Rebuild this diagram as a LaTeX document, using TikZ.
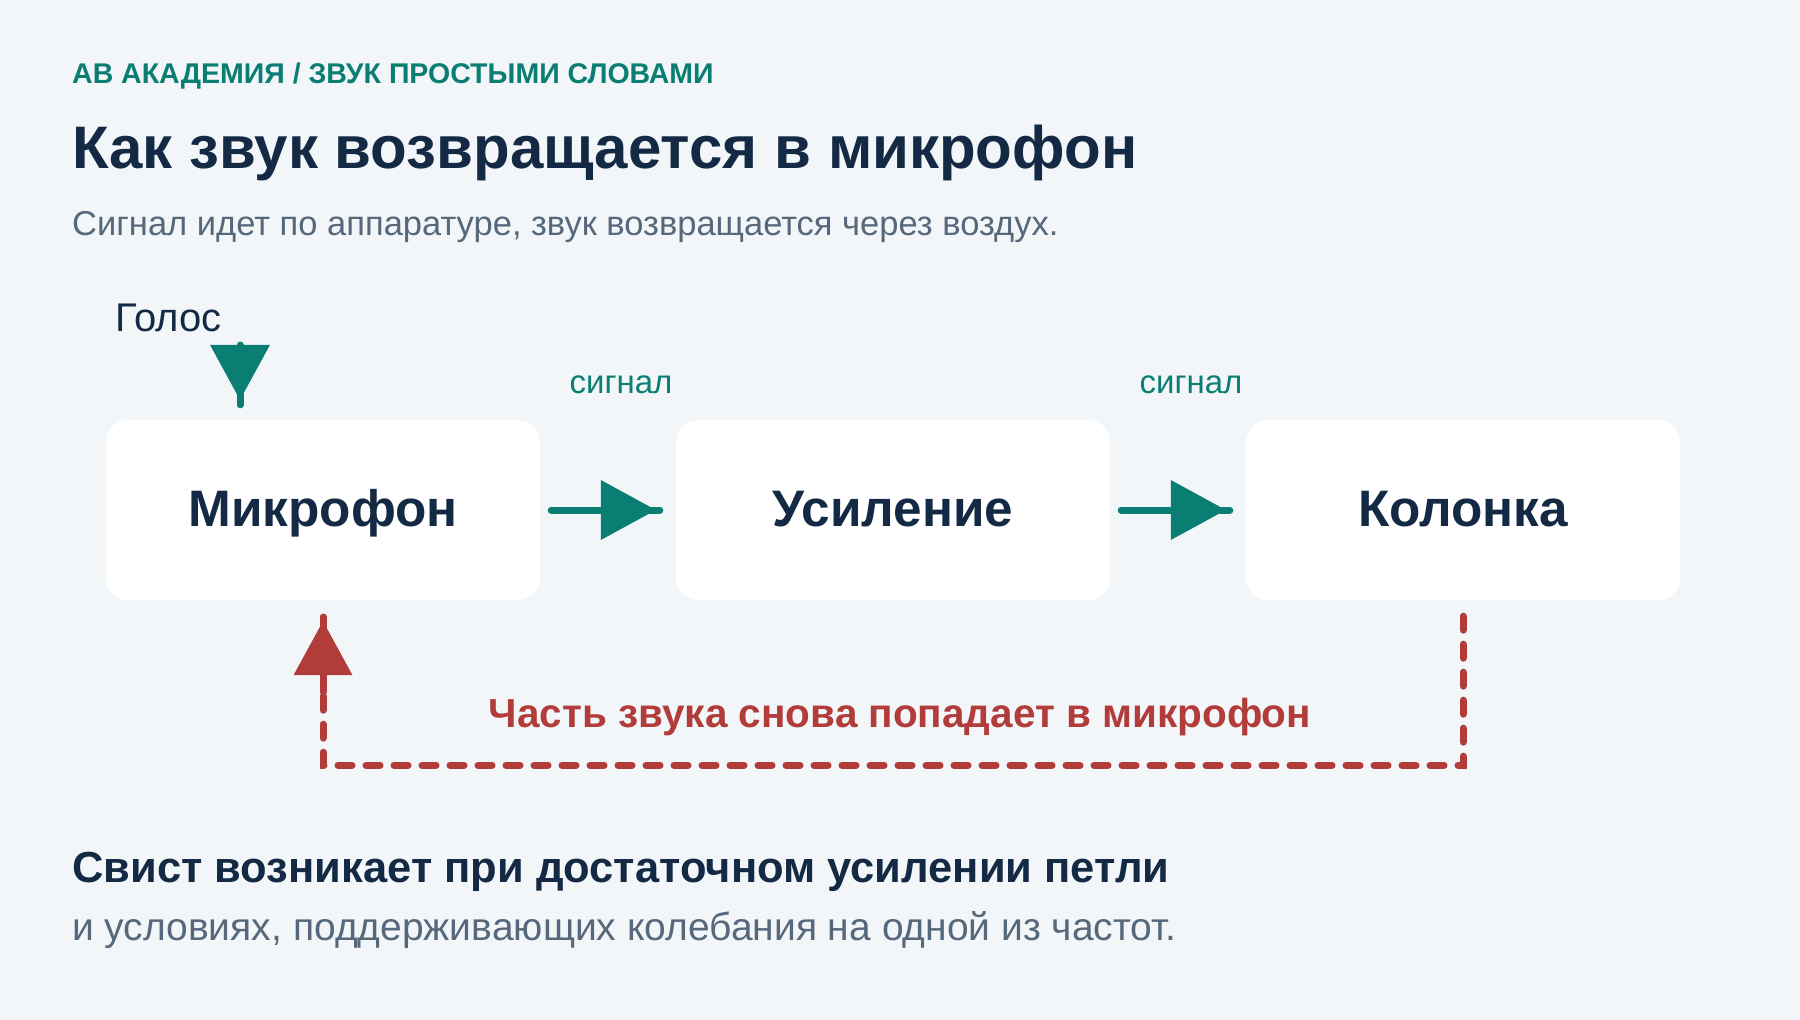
\documentclass[tikz,border=0pt]{standalone}
\usepackage{fontspec}
\setmainfont{Liberation Sans}
\usetikzlibrary{arrows.meta,calc}
\definecolor{bgc}{HTML}{F3F6F8}
\definecolor{accteal}{HTML}{0A7E72}
\definecolor{navyc}{HTML}{142A44}
\definecolor{grayc}{HTML}{56687C}
\definecolor{redc}{HTML}{B23C3A}
\begin{document}
\begin{tikzpicture}[x=1pt,y=-1pt,
  txt/.style={inner sep=0pt, anchor=base west},
  box/.style={fill=white, rounded corners=22pt, minimum width=434pt, minimum height=180pt,
    inner sep=0pt, text height=33pt, text depth=0pt,
    font=\fontsize{51.3}{56}\selectfont\bfseries, text=navyc},
  tealline/.style={draw=accteal, line width=7pt, line cap=round},
  tealhead/.style={draw=accteal, fill=accteal, line width=7pt,
    -{Triangle[length=55pt,width=60pt,line width=0pt]}},
  redline/.style={draw=redc, line width=7pt, line cap=round},
  reddash/.style={redline, dash pattern=on 14pt off 14pt},
  redhead/.style={draw=redc, fill=redc, line width=7pt,
    -{Triangle[length=54pt,width=59pt,line width=0pt]}},
  lbl/.style={inner sep=0pt, anchor=base, text=accteal, font=\fontsize{33}{37}\selectfont}
]
\fill[bgc] (0,0) rectangle (1800,1020);
\useasboundingbox (0,0) rectangle (1800,1020);

\node[txt, text=accteal, font=\fontsize{28.5}{32}\selectfont\bfseries] (kicker) at (72,83)
  {АВ АКАДЕМИЯ / ЗВУК ПРОСТЫМИ СЛОВАМИ};
\node[txt, text=navyc, font=\fontsize{60}{66}\selectfont\bfseries] (title) at (72,168)
  {Как звук возвращается в микрофон};
\node[txt, text=grayc, font=\fontsize{34.5}{38}\selectfont] (sub) at (72,235)
  {Сигнал идет по аппаратуре, звук возвращается через воздух.};

\node[box] (mic) at (323,510) {Микрофон};
\node[box] (amp) at (893,510) {Усиление};
\node[box] (spk) at (1463,510) {Колонка};

\node[txt, text=navyc, font=\fontsize{40}{44}\selectfont] (golos) at (115,331) {Голос};
\coordinate (vin) at (240,345);
\draw[tealline, shorten >=15pt] (vin) -- (vin |- mic.north);
\draw[tealhead, shorten >=20pt] (vin) -- (vin |- mic.north);

\draw[tealline, shorten <=11pt, shorten >=16pt] (mic.east) -- (amp.west);
\draw[tealhead, shorten <=11pt, shorten >=20pt] (mic.east) -- (amp.west);
\draw[tealline, shorten <=11pt, shorten >=16pt] (amp.east) -- (spk.west);
\draw[tealhead, shorten <=11pt, shorten >=20pt] (amp.east) -- (spk.west);

\node[lbl] (sig1) at ($(mic.east)!0.5!(amp.west)+(13,-117)$) {сигнал};
\node[lbl] (sig2) at ($(amp.east)!0.5!(spk.west)+(13,-117)$) {сигнал};

\draw[reddash] ($(spk.south)+(0,16)$) |- ($(mic.south)+(0,165)$) -- ($(mic.south)+(0,17)$);
\draw[redline, shorten >=17pt] ($(mic.south)+(0,92)$) -- (mic.south);
\draw[redhead, shorten >=21pt] ($(mic.south)+(0,92)$) -- (mic.south);

\node[inner sep=0pt, anchor=base, text=redc, font=\fontsize{40.5}{44}\selectfont\bfseries] (loopl)
  at (900,727) {Часть звука снова попадает в микрофон};

\node[txt, text=navyc, font=\fontsize{43.5}{48}\selectfont\bfseries] (concl) at (72,882)
  {Свист возникает при достаточном усилении петли};
\node[txt, text=grayc, font=\fontsize{39}{43}\selectfont] (concl2) at (72,940)
  {и условиях, поддерживающих колебания на одной из частот.};
\end{tikzpicture}
\end{document}
